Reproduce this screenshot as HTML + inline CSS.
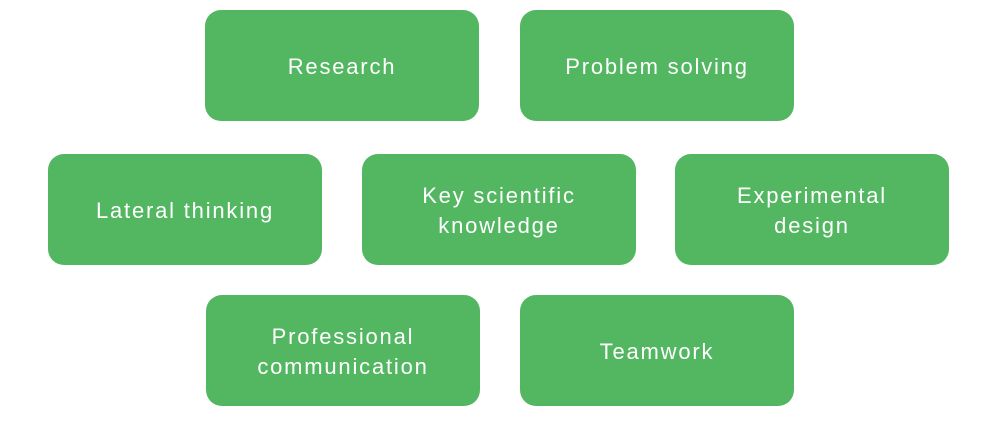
<!DOCTYPE html>
<html><head><style>
body{margin:0;width:1000px;height:422px;background:#fff;position:relative;overflow:hidden}
.b{position:absolute;width:274px;height:111px;background:#53b762;border-radius:16px;color:#fff;font-family:"Liberation Sans",sans-serif;font-size:22px;letter-spacing:1.8px;line-height:30px;display:flex;align-items:center;justify-content:center;text-align:center;box-sizing:border-box;padding-top:3px}
</style></head><body>
<div class="b" style="left:205px;top:10px">Research</div>
<div class="b" style="left:520px;top:10px">Problem solving</div>
<div class="b" style="left:48px;top:154px">Lateral thinking</div>
<div class="b" style="left:362px;top:154px">Key scientific<br>knowledge</div>
<div class="b" style="left:675px;top:154px">Experimental<br>design</div>
<div class="b" style="left:206px;top:295px">Professional<br>communication</div>
<div class="b" style="left:520px;top:295px">Teamwork</div>
</body></html>
